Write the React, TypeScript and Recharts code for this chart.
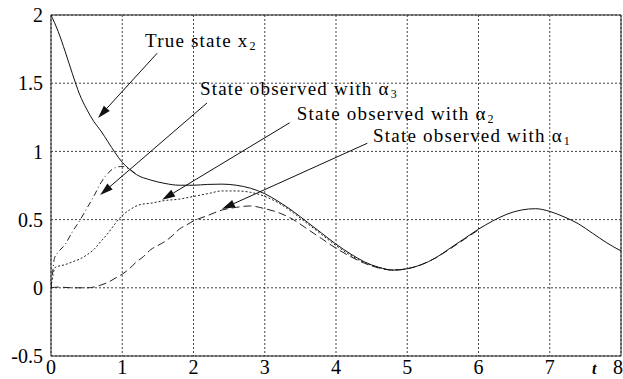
import { LineChart, Line, XAxis, YAxis, CartesianGrid, ReferenceLine, ReferenceDot, ReferenceArea } from 'recharts';

// true state x2
const tTrue = [0, 0.1, 0.2, 0.3, 0.4, 0.5, 0.6, 0.7, 0.8, 0.9, 1.0, 1.1, 1.2, 1.4, 1.6, 1.8, 2.0, 2.2, 2.4, 2.6, 2.8, 3.0, 3.2, 3.4, 3.6, 3.8, 4.0, 4.2, 4.4, 4.6, 4.8, 5.0, 5.2, 5.4, 5.6, 5.8, 6.0, 6.2, 6.4, 6.6, 6.8, 7.0, 7.2, 7.4, 7.6, 7.8, 8.0];
const x2True = [2.0, 1.88, 1.73, 1.57, 1.42, 1.31, 1.22, 1.15, 1.07, 0.99, 0.92, 0.87, 0.83, 0.79, 0.765, 0.752, 0.752, 0.758, 0.76, 0.752, 0.73, 0.69, 0.63, 0.56, 0.48, 0.4, 0.32, 0.25, 0.19, 0.15, 0.13, 0.14, 0.17, 0.22, 0.29, 0.36, 0.43, 0.49, 0.54, 0.57, 0.58, 0.56, 0.52, 0.47, 0.4, 0.33, 0.27];

// observed with alpha 3 (dash-dot)
const tA3 = [0, 0.02, 0.05, 0.1, 0.2, 0.3, 0.4, 0.5, 0.6, 0.7, 0.8, 0.9, 1.0, 1.1, 1.2];
const xA3 = [0, 0.1, 0.22, 0.26, 0.32, 0.41, 0.49, 0.58, 0.67, 0.77, 0.84, 0.88, 0.89, 0.87, 0.83];

// observed with alpha 2 (dotted)
const tA2 = [0, 0.03, 0.06, 0.2, 0.3, 0.4, 0.5, 0.6, 0.7, 0.8, 0.9, 1.0, 1.1, 1.25, 1.4, 1.6, 1.8, 2.0, 2.2, 2.4, 2.6, 2.8, 3.0, 3.2, 3.4, 3.6, 3.8, 4.0, 4.2, 4.4, 4.6, 4.8, 5.0];
const xA2 = [0, 0.1, 0.15, 0.17, 0.19, 0.21, 0.24, 0.28, 0.34, 0.4, 0.47, 0.53, 0.57, 0.61, 0.62, 0.64, 0.65, 0.67, 0.69, 0.71, 0.71, 0.7, 0.67, 0.62, 0.55, 0.47, 0.39, 0.31, 0.24, 0.185, 0.15, 0.13, 0.14];

// observed with alpha 1 (dashed)
const tA1 = [0, 0.1, 0.3, 0.5, 0.6, 0.7, 0.8, 0.9, 1.0, 1.1, 1.2, 1.3, 1.4, 1.5, 1.6, 1.7, 1.8, 1.9, 2.0, 2.2, 2.4, 2.6, 2.8, 3.0, 3.2, 3.4, 3.6, 3.8, 4.0, 4.2, 4.4, 4.6, 4.8, 5.0, 5.2, 5.4, 5.6, 5.8, 6.0];
const xA1 = [0, 0.005, 0, 0, 0.005, 0.02, 0.04, 0.07, 0.1, 0.14, 0.19, 0.23, 0.28, 0.31, 0.34, 0.38, 0.43, 0.46, 0.49, 0.53, 0.57, 0.59, 0.6, 0.58, 0.55, 0.5, 0.43, 0.36, 0.29, 0.23, 0.18, 0.145, 0.13, 0.14, 0.17, 0.22, 0.285, 0.355, 0.425];

const xTicks = [0, 1, 2, 3, 4, 5, 6, 7, 8];
const yTicks = [-0.5, 0, 0.5, 1, 1.5, 2];

// annotation texts: [t, x, label, subscript]
const notes: [number, number, string, string][] = [
  [1.32, 1.765, 'True state x', '2'],
  [2.09, 1.41, 'State observed with \u03b1', '3'],
  [3.45, 1.23, 'State observed with \u03b1', '2'],
  [4.52, 1.07, 'State observed with \u03b1', '1'],
];

// arrows: [t from, x from, t to, x to]
const arrows: [number, number, number, number][] = [
  [1.49, 1.72, 0.66, 1.245],
  [2.19, 1.355, 0.69, 0.68],
  [3.35, 1.21, 1.56, 0.645],
  [4.44, 1.06, 2.4, 0.578],
];

const toPoints = (ts: number[], vs: number[]) => ts.map((t, i) => ({ t, v: vs[i] }));

const serif = '"Liberation Serif", "Times New Roman", serif';

const Arrow = (p: any) => {
  const { x1, y1, x2, y2 } = p;
  const ang = Math.atan2(y2 - y1, x2 - x1);
  const len = 13;
  const w = 4;
  const bx = x2 - len * Math.cos(ang);
  const by = y2 - len * Math.sin(ang);
  const nx = -Math.sin(ang) * w;
  const ny = Math.cos(ang) * w;
  return (
    <g>
      <line x1={x1} y1={y1} x2={bx} y2={by} stroke="#111" strokeWidth={1} />
      <polygon points={`${x2},${y2} ${bx + nx},${by + ny} ${bx - nx},${by - ny}`} fill="#111" />
    </g>
  );
};

export default function App() {
  return (
    <div style={{ position: 'absolute', left: 0, top: 0, width: 623, height: 379, background: '#fff' }}>
      <LineChart width={623} height={379} margin={{ top: 15, right: 2, left: 0, bottom: 0 }}>
        <CartesianGrid stroke="#444" strokeDasharray="2 2" />
        <XAxis
          type="number"
          dataKey="t"
          domain={[0, 8]}
          ticks={xTicks}
          height={23}
          tickSize={0}
          tickMargin={4}
          axisLine={false}
          tick={{ fill: '#000', fontSize: 20, fontFamily: serif }}
          allowDataOverflow
          label={{
            content: (props: any) => {
              const vb = props.viewBox;
              return (
                <text x={vb.x + vb.width - 29} y={vb.y + vb.height - 5} fontFamily={serif} fontStyle="italic" fontWeight="bold" fontSize={16} fill="#000">
                  t
                </text>
              );
            },
          }}
        />
        <YAxis
          type="number"
          domain={[-0.5, 2]}
          ticks={yTicks}
          width={51}
          tickSize={0}
          tickMargin={8}
          axisLine={false}
          tick={{ fill: '#000', fontSize: 20, fontFamily: serif }}
          allowDataOverflow
        />
        <ReferenceArea x1={0} x2={8} y1={-0.5} y2={2} fill="none" stroke="#222" strokeWidth={1} fillOpacity={0} />
        <Line data={toPoints(tA1, xA1)} dataKey="v" stroke="#222" strokeWidth={1} strokeDasharray="8 4" dot={false} isAnimationActive={false} type="monotone" />
        <Line data={toPoints(tA2, xA2)} dataKey="v" stroke="#222" strokeWidth={1} strokeDasharray="2 2" dot={false} isAnimationActive={false} type="monotone" />
        <Line data={toPoints(tA3, xA3)} dataKey="v" stroke="#222" strokeWidth={1} strokeDasharray="6 3 1 3" dot={false} isAnimationActive={false} type="monotone" />
        <Line data={toPoints(tTrue, x2True)} dataKey="v" stroke="#111" strokeWidth={1} dot={false} isAnimationActive={false} type="monotone" />
        {arrows.map((a, i) => (
          <ReferenceLine key={`a${i}`} segment={[{ x: a[0], y: a[1] }, { x: a[2], y: a[3] }]} shape={Arrow} ifOverflow="visible" />
        ))}
        {notes.map((n, i) => (
          <ReferenceDot
            key={`n${i}`}
            x={n[0]}
            y={n[1]}
            r={0}
            ifOverflow="visible"
            shape={(p: any) => (
              <text x={p.cx} y={p.cy} fontFamily={serif} fontSize={19} fill="#000" letterSpacing={1.2}>
                {n[2]}
                <tspan fontSize={12} dy={3} dx={1}>{n[3]}</tspan>
              </text>
            )}
          />
        ))}
      </LineChart>
    </div>
  );
}
